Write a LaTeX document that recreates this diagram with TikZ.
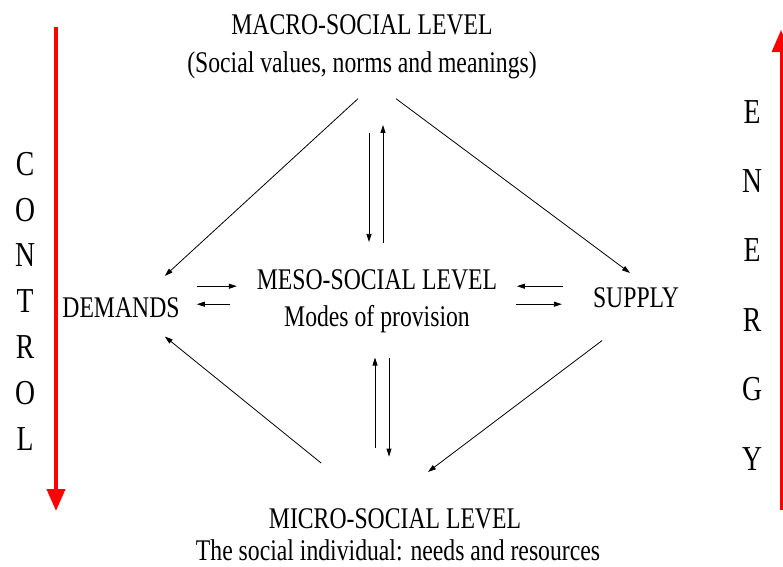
\documentclass[tikz,border=0pt]{standalone}
\usepackage{fontspec}
\setmainfont{Liberation Serif}[FakeStretch=0.79]
\usepackage{tikz}
\usetikzlibrary{positioning,calc,arrows.meta}

\begin{document}
\begin{tikzpicture}[x=1pt, y=-1pt,
  lbl/.style={inner sep=0pt, anchor=base, font=\fontsize{30}{36}\selectfont},
  bigletters/.style={inner sep=0pt, anchor=north, align=center},
  arr/.style={-{Triangle[length=8pt,width=5pt]}, line width=0.8pt},
  bigarr/.style={red, -{Triangle[length=22pt,width=18pt]}}]
\useasboundingbox (0,0) rectangle (783,566);

% Levels
\node[lbl] (macro) at (362,34) {MACRO-SOCIAL LEVEL};
\node[lbl] (macrosub) at (362,72) {(Social values, norms and meanings)};
\node[lbl] (meso) at (377,289) {MESO-SOCIAL LEVEL};
\node[lbl] (mesosub) at (377,326) {Modes of provision};
\node[lbl] (micro) at (395,528) {MICRO-SOCIAL LEVEL};
\node[lbl] (microsub) at (398,560) {The social individual: needs and resources};

% Demand and supply
\node[lbl] (demands) at (121,317) {DEMANDS};
\node[lbl] (supply) at (636,307) {SUPPLY};

% Side labels
\node[bigletters, font=\fontsize{35}{45.8}\selectfont] (control) at (25,152) {C\\O\\N\\T\\R\\O\\L};
\node[bigletters, font=\fontsize{35}{69.4}\selectfont] (energy) at (752,100) {E\\N\\E\\R\\G\\Y};

% Side arrows
\coordinate (ctop) at (56,27);
\coordinate (cbot) at (56,511);
\draw[bigarr, line width=4pt] (ctop) -- (cbot);
\coordinate (ebot) at (781,510);
\coordinate (etop) at (781,30);
\draw[bigarr, line width=3pt] (ebot) -- (etop);

% Diagonal flows
\draw[arr] ([shift={(-4,20)}]macrosub.south) -- ([shift={(-15,-21)}]demands.north east);
\draw[arr] ([shift={(34,20)}]macrosub.south) -- ([shift={(-6,-14)}]supply.north);
\draw[arr] ([shift={(-77,33)}]supply.south east) -- ([shift={(33,-36)}]micro.north);
\draw[arr] ([shift={(-74,-45)}]micro.north) -- ([shift={(-15,19)}]demands.south east);

% Macro <-> meso
\draw[arr] ([shift={(-8,-136)}]meso.north) -- ([shift={(-8,-27)}]meso.north);
\draw[arr] ([shift={(6,-26)}]meso.north) -- ([shift={(6,-144)}]meso.north);

% Meso <-> micro
\draw[arr] ([shift={(-2,115)}]mesosub.south) -- ([shift={(-2,25)}]mesosub.south);
\draw[arr] ([shift={(12,25)}]mesosub.south) -- ([shift={(12,124)}]mesosub.south);

% Demands <-> meso
\draw[arr] ([shift={(17,-21)}]demands.east) -- ([shift={(57,-21)}]demands.east);
\draw[arr] ([shift={(50,-3)}]demands.east) -- ([shift={(17,-3)}]demands.east);

% Meso <-> supply
\draw[arr] ([shift={(-30,-11)}]supply.west) -- ([shift={(-76,-11)}]supply.west);
\draw[arr] ([shift={(-77,7)}]supply.west) -- ([shift={(-31,7)}]supply.west);

\end{tikzpicture}
\end{document}
